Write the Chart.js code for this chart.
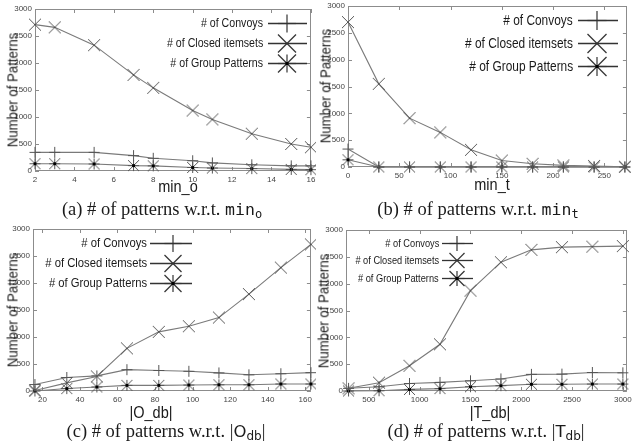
<!DOCTYPE html>
<html><head><meta charset="utf-8">
<script src="https://cdn.jsdelivr.net/npm/chart.js@4/dist/chart.umd.min.js"></script>
<style>
html,body{margin:0;padding:0;background:#fff;}
body{width:632px;height:443px;position:relative;overflow:hidden;font-family:"Liberation Sans",Arial,sans-serif;}
canvas{position:absolute;}
.t{position:absolute;white-space:nowrap;color:#1a1a1a;line-height:1;}
.cap{position:absolute;white-space:nowrap;color:#1a1a1a;font-family:"Liberation Serif","DejaVu Serif",serif;font-size:18.5px;line-height:1;transform:translate(-50%,-50%);}
.mono{font-family:"DejaVu Sans Mono","Liberation Mono",monospace;font-size:16.5px;}
.sans{font-family:"DejaVu Sans","Liberation Sans",sans-serif;font-size:16.5px;}
sub{font-size:12px;vertical-align:-3px;line-height:0;}
svg{position:absolute;left:0;top:0;}
</style></head>
<body>
<script>
// ---------- data ----------
const yTicks = [0, 500, 1000, 1500, 2000, 2500, 3000];
const seriesNames = ['# of Convoys', '# of Closed itemsets', '# of Group Patterns'];

const xMinO    = [2, 3, 5, 7, 8, 10, 11, 13, 15, 16];
const xTicksA  = [2, 4, 6, 8, 10, 12, 14, 16];
const convoysA = [345, 345, 345, 285, 235, 190, 150, 115, 95, 95];
const closedA  = [2710, 2660, 2330, 1780, 1540, 1120, 955, 690, 500, 440];
const groupA   = [135, 135, 130, 100, 95, 65, 55, 45, 30, 25];

const xMinT    = [0, 30, 60, 90, 120, 150, 180, 210, 240, 270];
const xTicksB  = [0, 50, 100, 150, 200, 250];
const convoysB = [335, 0, 0, 0, 0, 0, 0, 0, 0, 0];
const closedB  = [2700, 1550, 910, 645, 320, 120, 60, 30, 20, 5];
const groupB   = [135, 0, 0, 0, 0, 0, 0, 0, 0, 0];

const xOdb     = [16, 33, 49, 65, 82, 98, 114, 130, 147, 163];
const xTicksC  = [20, 40, 60, 80, 100, 120, 140, 160];
const convoysC = [120, 250, 280, 395, 380, 365, 335, 300, 320, 340];
const closedC  = [10, 150, 270, 790, 1095, 1200, 1360, 1795, 2285, 2715];
const groupC   = [0, 45, 75, 105, 105, 110, 115, 115, 130, 130];

const xTdb     = [300, 600, 900, 1200, 1500, 1800, 2100, 2400, 2700, 3000];
const xTicksD  = [500, 1000, 1500, 2000, 2500, 3000];
const convoysD = [50, 80, 140, 160, 190, 225, 310, 315, 345, 340];
const closedD  = [50, 155, 470, 870, 1870, 2400, 2630, 2680, 2690, 2700];
const groupD   = [0, 5, 30, 45, 80, 100, 125, 125, 130, 130];

// ---------- helpers ----------
function makeMarker(kind, h, color, dot) {
  const s = Math.ceil(h * 2 + 4);
  const c = document.createElement('canvas');
  c.width = s; c.height = s;
  const g = c.getContext('2d');
  const m = s / 2;
  g.strokeStyle = color; g.lineWidth = 1;
  g.beginPath();
  if (kind === 'plus' || kind === 'star') { g.moveTo(m - h, m); g.lineTo(m + h, m); g.moveTo(m, m - h); g.lineTo(m, m + h); }
  if (kind === 'x' || kind === 'star') { g.moveTo(m - h, m - h); g.lineTo(m + h, m + h); g.moveTo(m - h, m + h); g.lineTo(m + h, m - h); }
  g.stroke();
  if (dot) { g.fillStyle = '#000'; g.fillRect(m - 1.5, m - 1.5, 3, 3); }
  return c;
}

const framePlugin = {
  id: 'frame',
  beforeDatasetsDraw(chart) {
    const { ctx, chartArea: a, scales: { x, y } } = chart;
    ctx.save();
    ctx.strokeStyle = '#8c8c8c'; ctx.lineWidth = 1;
    ctx.strokeRect(Math.round(a.left) + 0.5, Math.round(a.top) + 0.5, Math.round(a.right - a.left) - 1, Math.round(a.bottom - a.top) - 1);
    ctx.beginPath();
    x.ticks.forEach(t => {
      const px = Math.round(x.getPixelForValue(t.value)) + 0.5;
      ctx.moveTo(px, a.bottom); ctx.lineTo(px, a.bottom - 4);
      ctx.moveTo(px, a.top); ctx.lineTo(px, a.top + 4);
    });
    y.ticks.forEach(t => {
      const py = Math.round(y.getPixelForValue(t.value)) + 0.5;
      ctx.moveTo(a.left, py); ctx.lineTo(a.left + 4, py);
      ctx.moveTo(a.right, py); ctx.lineTo(a.right - 4, py);
    });
    ctx.stroke();
    ctx.restore();
  }
};

function addText(html, css, cls) {
  const d = document.createElement('div');
  d.className = cls || 't';
  d.innerHTML = html;
  Object.assign(d.style, css);
  document.body.appendChild(d);
  return d;
}

const svgNS = 'http://www.w3.org/2000/svg';
const svg = document.createElementNS(svgNS, 'svg');
svg.setAttribute('width', 632); svg.setAttribute('height', 443);

function svgLine(x1, y1, x2, y2, color, w) {
  const l = document.createElementNS(svgNS, 'line');
  l.setAttribute('x1', x1); l.setAttribute('y1', y1); l.setAttribute('x2', x2); l.setAttribute('y2', y2);
  l.setAttribute('stroke', color); l.setAttribute('stroke-width', w);
  svg.appendChild(l);
}
function svgMarker(kind, cx, cy, h) {
  if (kind === 'plus' || kind === 'star') { svgLine(cx - h, cy, cx + h, cy, '#333', 1.2); svgLine(cx, cy - h, cx, cy + h, '#333', 1.2); }
  if (kind === 'x' || kind === 'star') { svgLine(cx - h, cy - h, cx + h, cy + h, '#333', 1.2); svgLine(cx - h, cy + h, cx + h, cy - h, '#333', 1.2); }
  if (kind === 'star') { const r = document.createElementNS(svgNS, 'rect'); r.setAttribute('x', cx - 1.5); r.setAttribute('y', cy - 1.5); r.setAttribute('width', 3); r.setAttribute('height', 3); r.setAttribute('fill', '#000'); svg.appendChild(r); }
}

const kinds = ['plus', 'x', 'star'];

const panels = [
  { xs: xMinO, ys: [convoysA, closedA, groupA], xMin: 2, xMax: 16, xTicks: xTicksA,
    box: [0, 0, 316, 198], area: [35, 9, 312, 171], mk: [5.5, 6, 5.5],
    yTitle: [12, 90], xTitle: ['min_o', 178, 186],
    leg: { right: 263, l0: 268, l1: 307, mx: 287, rows: [23, 43, 63], fs: 12.5, sx: 0.85, mh: 9 } },
  { xs: xMinT, ys: [convoysB, closedB, groupB], xMin: 0, xMax: 272, xTicks: xTicksB,
    box: [316, 0, 316, 198], area: [348, 6, 627, 167], mk: [5.5, 6, 5.5],
    yTitle: [325, 86], xTitle: ['min_t', 492, 184],
    leg: { right: 573, l0: 578, l1: 618, mx: 597, rows: [20, 43, 66], fs: 14, sx: 0.85, mh: 9.5 } },
  { xs: xOdb, ys: [convoysC, closedC, groupC], xMin: 15, xMax: 163, xTicks: xTicksC,
    box: [0, 218, 316, 200], area: [33, 229, 313, 391], mk: [5.5, 6, 5.5],
    yTitle: [12, 310], xTitle: ['|O_db|', 151, 412],
    leg: { right: 147, l0: 150, l1: 192, mx: 173, rows: [243, 263, 283], fs: 12.5, sx: 0.9, mh: 8.5 } },
  { xs: xTdb, ys: [convoysD, closedD, groupD], xMin: 275, xMax: 3040, xTicks: xTicksD,
    box: [316, 218, 316, 200], area: [346, 230, 627, 391], mk: [5.5, 6, 5.5],
    yTitle: [323, 311], xTitle: ['|T_db|', 490, 412],
    leg: { right: 439, l0: 442, l1: 473, mx: 457, rows: [243, 260, 278], fs: 10.5, sx: 0.88, mh: 7.5 } }
];

panels.forEach(p => {
  const [bx, by, bw, bh] = p.box;
  const [l, t, r, b] = p.area;
  const cv = document.createElement('canvas');
  cv.width = bw; cv.height = bh;
  cv.style.left = bx + 'px'; cv.style.top = by + 'px';
  document.body.appendChild(cv);

  const datasets = p.ys.map((vals, i) => ({
    label: seriesNames[i],
    data: p.xs.map((x, k) => ({ x: x, y: vals[k] })),
    borderColor: '#7a7a7a',
    borderWidth: 1.1,
    pointStyle: makeMarker(kinds[i], p.mk[i], '#555', i === 2),
    pointRadius: 4,
    pointHoverRadius: 4,
    tension: 0,
    clip: false,
    fill: false
  }));

  new Chart(cv, {
    type: 'line',
    data: { datasets },
    plugins: [framePlugin],
    options: {
      responsive: false,
      animation: false,
      devicePixelRatio: 1,
      events: [],
      layout: { padding: { left: 0, top: t - by, right: bx + bw - r, bottom: 0 } },
      plugins: { legend: { display: false }, tooltip: { enabled: false } },
      scales: {
        x: {
          type: 'linear', min: p.xMin, max: p.xMax,
          grid: { display: false, drawTicks: false },
          border: { display: false },
          afterBuildTicks: s => { s.ticks = p.xTicks.map(v => ({ value: v })); },
          ticks: { autoSkip: false, maxRotation: 0, callback: v => String(v),
                   padding: 4, color: '#444', font: { family: 'Liberation Sans', size: 8 } },
          afterFit: s => { s.height = by + bh - b; s.paddingLeft = 0; s.paddingRight = 0; }
        },
        y: {
          type: 'linear', min: 0, max: 3000,
          grid: { display: false, drawTicks: false },
          border: { display: false },
          afterBuildTicks: s => { s.ticks = yTicks.map(v => ({ value: v })); },
          ticks: { padding: 3, color: '#444', callback: v => String(v), font: { family: 'Liberation Sans', size: 8 } },
          afterFit: s => { s.width = l - bx; s.paddingTop = 0; s.paddingBottom = 0; }
        }
      }
    }
  });

  // axis titles
  addText('Number of Patterns', {
    left: p.yTitle[0] + 'px', top: p.yTitle[1] + 'px', fontSize: '15px',
    transform: 'translate(-50%,-50%) rotate(-90deg) scale(0.88,1)'
  });
  addText(p.xTitle[0], {
    left: p.xTitle[1] + 'px', top: p.xTitle[2] + 'px', fontSize: '16.5px',
    transform: 'translate(-50%,-50%) scale(0.88,1)'
  });

  // legend
  const L = p.leg;
  seriesNames.forEach((name, i) => {
    const y = L.rows[i];
    addText(name, {
      right: (632 - L.right) + 'px', top: y + 'px', fontSize: L.fs + 'px',
      transform: 'translateY(-50%) scale(' + L.sx + ',1)', transformOrigin: 'right center'
    });
    svgLine(L.l0, y + 0.5, L.l1, y + 0.5, '#333', 1.3);
    svgMarker(kinds[i], L.mx, y + 0.5, L.mh);
  });
});

document.body.appendChild(svg);

// captions
addText('(a) # of patterns w.r.t. <span class="mono">min</span><sub class="mono" style="font-size:12px">o</sub>', { left: '162px', top: '209px' }, 'cap');
addText('(b) # of patterns w.r.t. <span class="mono">min</span><sub class="mono" style="font-size:12px">t</sub>', { left: '478px', top: '209px' }, 'cap');
addText('(c) # of patterns w.r.t. |<span class="sans">O</span><sub class="sans" style="font-size:12px">db</sub>|', { left: '166px', top: '431px' }, 'cap');
addText('(d) # of patterns w.r.t. |<span class="sans">T</span><sub class="sans" style="font-size:12px">db</sub>|', { left: '486px', top: '431px' }, 'cap');
</script>
</body></html>
